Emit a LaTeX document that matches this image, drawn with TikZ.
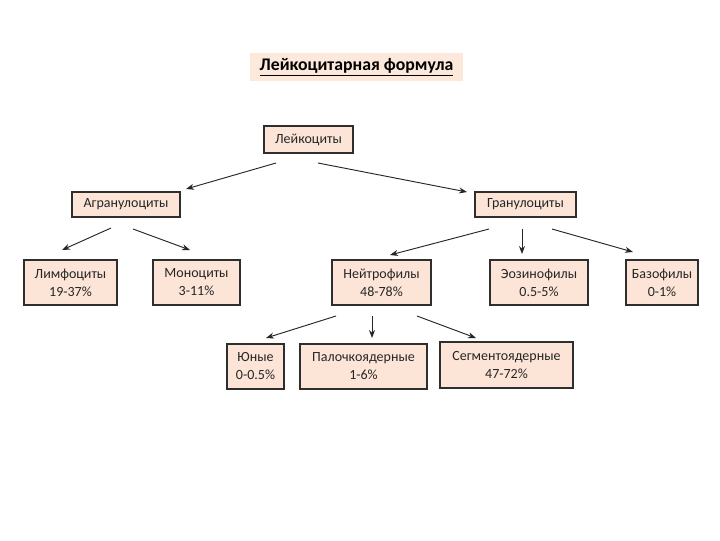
\documentclass[tikz,border=0pt]{standalone}
\usepackage{fontspec}
\setmainfont{Carlito}
\usetikzlibrary{arrows.meta}
\definecolor{peach}{HTML}{FCE4D6}
\definecolor{titlefill}{HTML}{FDE9DB}
\definecolor{edge}{HTML}{2E2E2E}
\begin{document}
\begin{tikzpicture}[x=0.75pt,y=-0.75pt,
  box/.style={draw=edge,line width=1pt,fill=peach,inner sep=0pt,align=center,font=\fontsize{10.5}{13.5}\selectfont,text=black!85},
  conn/.style={draw=black!85,line width=0.7pt,-{Stealth[length=6pt,width=4.5pt]}}]
\useasboundingbox (0,0) rectangle (720,540);
\fill[white] (0,0) rectangle (720,540);
\node[fill=titlefill,minimum width=213*0.75pt,minimum height=28*0.75pt,inner sep=0pt,font=\fontsize{13.3}{15}\selectfont\bfseries] (title) at (356.5,67) {\underline{Лейкоцитарная формула}};
\node[box,minimum width=89*0.75pt,minimum height=27*0.75pt] (leyk) at (308.5,139.5) {Лейкоциты};
\node[box,minimum width=108*0.75pt,minimum height=25*0.75pt] (agran) at (126,204.5) {Агранулоциты};
\node[box,minimum width=101*0.75pt,minimum height=25*0.75pt] (gran) at (525.5,204.5) {Гранулоциты};
\node[box,minimum width=93*0.75pt,minimum height=45*0.75pt] (limf) at (70.5,282.5) {Лимфоциты\\19-37\%};
\node[box,minimum width=87*0.75pt,minimum height=45*0.75pt] (mono) at (196.5,282.5) {Моноциты\\3-11\%};
\node[box,minimum width=99*0.75pt,minimum height=45*0.75pt] (neut) at (381.5,282.5) {Нейтрофилы\\48-78\%};
\node[box,minimum width=98*0.75pt,minimum height=45*0.75pt] (eoz) at (539,282.5) {Эозинофилы\\0.5-5\%};
\node[box,minimum width=72*0.75pt,minimum height=45*0.75pt] (baz) at (662,282.5) {Базофилы\\0-1\%};
\node[box,minimum width=57*0.75pt,minimum height=45*0.75pt] (yun) at (255.5,366.5) {Юные\\0-0.5\%};
\node[box,minimum width=127*0.75pt,minimum height=45*0.75pt] (pal) at (363.5,366.5) {Палочкоядерные\\1-6\%};
\node[box,minimum width=133*0.75pt,minimum height=46*0.75pt] (seg) at (506.5,365) {Сегментоядерные\\47-72\%};
% free connector ends
\coordinate (a1s) at (276,163); \coordinate (a1e) at (186,189);
\coordinate (a2s) at (318,163); \coordinate (a2e) at (467,192);
\coordinate (b1s) at (111,228); \coordinate (b1e) at (62,250);
\coordinate (b2s) at (133,229); \coordinate (b2e) at (190,250);
\coordinate (c1s) at (489,229); \coordinate (c1e) at (390,255);
\coordinate (c2s) at (522,229); \coordinate (c2e) at (522,254);
\coordinate (c3s) at (552,229); \coordinate (c3e) at (633,252);
\coordinate (d1s) at (336,316); \coordinate (d1e) at (266,338);
\coordinate (d2s) at (372,316); \coordinate (d2e) at (372,338);
\coordinate (d3s) at (417,316); \coordinate (d3e) at (476,338);
\foreach \n in {a1,a2,b1,b2,c1,c2,c3,d1,d2,d3}{\draw[conn] (\n s) -- (\n e);}
\end{tikzpicture}
\end{document}
